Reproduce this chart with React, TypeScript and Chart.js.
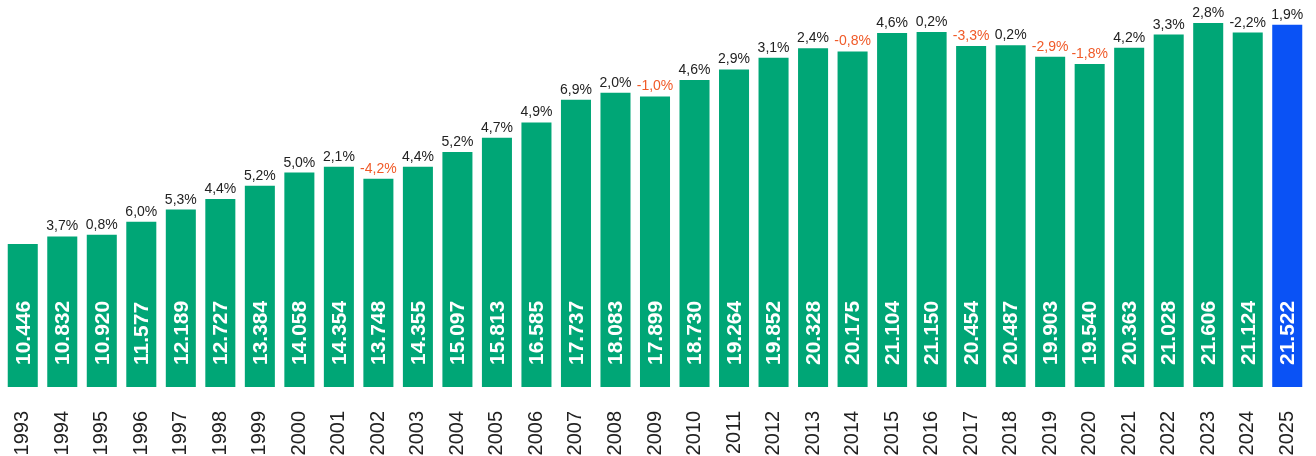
import React, { useEffect, useRef } from "react";
import { Chart, registerables } from "chart.js";

Chart.register(...registerables);

const years = [
  "1993", "1994", "1995", "1996", "1997", "1998", "1999", "2000", "2001", "2002", "2003",
  "2004", "2005", "2006", "2007", "2008", "2009", "2010", "2011", "2012", "2013", "2014",
  "2015", "2016", "2017", "2018", "2019", "2020", "2021", "2022", "2023", "2024", "2025",
];

const values = [
  10446, 10832, 10920, 11577, 12189, 12727, 13384, 14058, 14354, 13748, 14355,
  15097, 15813, 16585, 17737, 18083, 17899, 18730, 19264, 19852, 20328, 20175,
  21104, 21150, 20454, 20487, 19903, 19540, 20363, 21028, 21606, 21124, 21522,
];

const growth: (number | null)[] = [
  null, 3.7, 0.8, 6.0, 5.3, 4.4, 5.2, 5.0, 2.1, -4.2, 4.4,
  5.2, 4.7, 4.9, 6.9, 2.0, -1.0, 4.6, 2.9, 3.1, 2.4, -0.8,
  4.6, 0.2, -3.3, 0.2, -2.9, -1.8, 4.2, 3.3, 2.8, -2.2, 1.9,
];

// years whose negative growth is not highlighted
const plainNegativeYears = ["2024"];

const GREEN = "#00A676";
const BLUE = "#0A52F5";
const DARK = "#222222";
const ORANGE = "#F05A28";
const FONT = "'Liberation Sans', Arial, sans-serif";

const fmtValue = (v: number) => v.toLocaleString("de-DE");
const fmtGrowth = (g: number) => (g < 0 ? "-" : "") + Math.abs(g).toFixed(1).replace(".", ",") + "%";

const labelPlugin = {
  id: "barLabels",
  afterDatasetsDraw(chart: any) {
    const ctx = chart.ctx;
    const meta = chart.getDatasetMeta(0);
    const bottom = chart.chartArea.bottom;
    meta.data.forEach((bar: any, i: number) => {
      const x = bar.x;
      const top = bar.y;
      // value inside bar, rotated
      ctx.save();
      ctx.translate(x + 1, bottom - 22);
      ctx.rotate(-Math.PI / 2);
      ctx.font = `bold 21px ${FONT}`;
      ctx.fillStyle = "#ffffff";
      ctx.textAlign = "left";
      ctx.textBaseline = "middle";
      ctx.fillText(fmtValue(values[i]), 0, 0);
      ctx.restore();
      // growth above bar
      const g = growth[i];
      if (g !== null && g !== undefined) {
        ctx.save();
        ctx.font = `14px ${FONT}`;
        ctx.fillStyle = g < 0 && !plainNegativeYears.includes(years[i]) ? ORANGE : DARK;
        ctx.textAlign = "center";
        ctx.textBaseline = "alphabetic";
        ctx.fillText(fmtGrowth(g), x, top - 6);
        ctx.restore();
      }
    });
  },
};

export default function App() {
  const ref = useRef<HTMLCanvasElement | null>(null);
  useEffect(() => {
    if (!ref.current) return;
    const chart = new Chart(ref.current, {
      type: "bar",
      data: {
        labels: years,
        datasets: [
          {
            data: values,
            backgroundColor: values.map((_, i) => (i === values.length - 1 ? BLUE : GREEN)),
            barPercentage: 0.76,
            categoryPercentage: 1,
            borderWidth: 0,
          },
        ],
      },
      options: {
        responsive: false,
        animation: false,
        layout: { padding: { left: 3, right: 9, top: 0, bottom: 0 } },
        plugins: { legend: { display: false }, tooltip: { enabled: false } },
        scales: {
          x: {
            grid: { display: false },
            border: { display: false },
            ticks: {
              color: DARK,
              font: { size: 20, family: FONT },
              minRotation: 90,
              maxRotation: 90,
              autoSkip: false,
              padding: 16,
            },
            afterFit: (s: any) => {
              s.height = 69;
              s.paddingLeft = 0;
              s.paddingRight = 0;
            },
          },
          y: {
            display: false,
            min: 3226,
            max: 22771,
          },
        },
      },
      plugins: [labelPlugin],
    });
    return () => chart.destroy();
  }, []);
  return (
    <div style={{ position: "absolute", left: 0, top: 0, width: 1316, height: 456, background: "#fff" }}>
      <canvas ref={ref} width={1316} height={456} style={{ display: "block" }} />
    </div>
  );
}
